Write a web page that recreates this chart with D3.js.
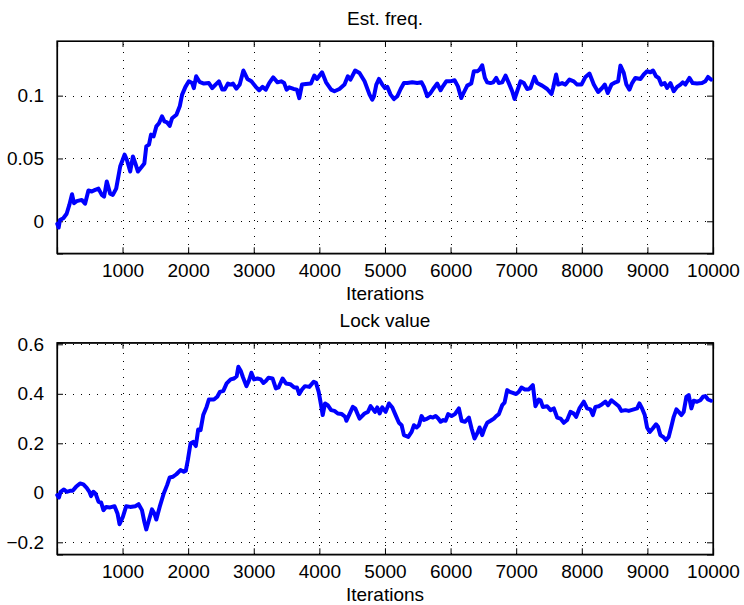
<!DOCTYPE html>
<html><head><meta charset="utf-8">
<script src="https://cdn.jsdelivr.net/npm/d3@7"></script>
<style>
html,body{margin:0;padding:0;background:#fff;}
svg{display:block;}
text{font-family:"Liberation Sans",Arial,Helvetica,sans-serif;fill:#000;}
</style></head>
<body>
<svg id="chart" width="744" height="605"></svg>
<script>
// ---- data ----
const freqIter = [5,26,46,97,148,189,230,260,301,378,429,480,531,582,633,684,719,760,811,852,903,964,1031,1066,1117,1158,1194,1235,1296,1332,1362,1403,1434,1474,1515,1556,1602,1638,1679,1719,1755,1821,1872,1908,1959,2010,2061,2087,2122,2173,2240,2316,2367,2418,2469,2520,2556,2607,2648,2684,2735,2786,2842,2903,2964,3031,3082,3133,3184,3235,3296,3362,3418,3464,3500,3541,3607,3658,3694,3735,3796,3872,3923,3964,4041,4102,4179,4230,4306,4383,4434,4474,4546,4612,4689,4765,
4807,4832,4868,4909,4959,5000,5036,5086,5137,5188,5239,5289,5340,5416,5492,5558,5594,5645,5695,5746,5797,5848,5883,5934,5995,6061,6112,6162,6198,6254,6315,6355,6406,6442,6482,6523,6558,6609,6650,6696,6736,6787,6838,6888,6939,6975,7015,7066,7117,7168,7218,7279,7320,7396,7472,7538,7563,7609,7640,7700,7751,7812,7878,7929,7995,8056,8117,8183,8249,8310,8351,8396,8452,8513,8554,8589,8640,8680,8726,8767,8817,8894,8944,8995,9046,9086,9132,9173,9213,9264,9300,9351,9401,9452,9503,9538,9579,9640,9690,9756,9833,9883,9924,9970];
const freqVal = [-0.002,-0.005,0.001,0.0024,0.006,0.013,0.0215,0.0144,0.016,0.017,0.014,0.0245,0.0237,0.025,0.026,0.021,0.0197,0.0317,0.022,0.021,0.026,0.0436,0.053,0.049,0.0396,0.0516,0.0463,0.0396,0.0436,0.046,0.0596,0.061,0.069,0.0676,0.0755,0.078,0.0835,0.0795,0.0787,0.076,0.082,0.0848,0.0915,0.1008,0.107,0.1114,0.110,0.106,0.1154,0.111,0.1096,0.110,0.106,0.1088,0.1114,0.1048,0.1048,0.1096,0.1088,0.1096,0.1056,0.1088,0.120,0.1133,0.1114,0.107,0.1043,0.107,0.1048,0.110,0.1146,0.1106,0.1114,0.110,0.1048,0.1066,0.1053,0.1048,0.098,0.1088,0.1093,0.1096,0.116,0.1133,0.1186,0.1106,0.1048,0.1035,0.1053,0.1088,0.1154,0.1128,0.120,0.118,0.1114,0.1008,
0.0968,0.0995,0.1088,0.1133,0.1088,0.106,0.107,0.1008,0.0973,0.0995,0.1053,0.110,0.110,0.1106,0.110,0.1106,0.107,0.0995,0.1021,0.1061,0.1096,0.1043,0.1074,0.1114,0.1114,0.1122,0.1074,0.0981,0.1021,0.108,0.1096,0.1194,0.1194,0.1207,0.1242,0.1141,0.1106,0.110,0.1106,0.1141,0.110,0.1106,0.116,0.110,0.1035,0.0973,0.1035,0.1114,0.110,0.1053,0.1061,0.1149,0.110,0.108,0.1053,0.1013,0.1061,0.1168,0.1088,0.110,0.1088,0.1128,0.1114,0.1088,0.1088,0.1149,0.1176,0.1088,0.1029,0.1061,0.1088,0.1021,0.1088,0.1106,0.1114,0.1239,0.1181,0.1088,0.1048,0.110,0.1141,0.1133,0.1168,0.1194,0.1186,0.120,0.1154,0.1141,0.1088,0.110,0.1061,0.110,0.1035,0.107,0.1088,0.1106,0.1088,0.1141,0.110,0.1096,0.110,0.1114,0.1149,0.1128];

const lockIter = [5,31,56,107,148,199,240,291,352,403,454,495,520,556,592,633,673,709,750,811,878,923,954,1005,1056,1117,1194,1245,1296,1332,1362,1403,1449,1485,1515,1566,1628,1679,1719,1770,1821,1883,1934,1964,1995,2036,2077,2117,2153,2189,2230,2281,2316,2393,2444,2485,2536,2587,2648,2699,2740,2765,2801,2837,2888,2929,2964,3005,3056,3107,3148,3184,3224,3286,3337,3378,3439,3490,3556,3617,3658,3694,3735,3781,3847,3913,3949,3990,4026,4051,4087,4128,4179,4230,4281,4342,4393,4413,4459,4510,4546,4612,4689,4740,4781,
4807,4848,4883,4919,4959,5010,5061,5112,5162,5213,5254,5289,5355,5406,5442,5482,5518,5558,5594,5645,5695,5731,5772,5812,5848,5889,5924,5964,6015,6066,6127,6168,6218,6279,6320,6365,6406,6442,6482,6518,6558,6609,6660,6696,6736,6787,6823,6863,6904,6949,7000,7041,7081,7132,7193,7254,7294,7345,7371,7406,7472,7523,7574,7625,7675,7726,7777,7827,7878,7914,7964,8030,8081,8132,8168,8208,8259,8310,8361,8401,8452,8513,8564,8605,8666,8716,8792,8843,8879,8919,8960,8995,9036,9081,9132,9162,9198,9249,9284,9325,9366,9401,9442,9477,9518,9553,9594,9630,9670,9706,9756,9807,9848,9883,9924,9970];
const lockVal = [-0.009,-0.019,0.004,0.0135,0.004,0.008,0.008,0.024,0.038,0.034,0.020,0.004,-0.0135,0.004,-0.005,-0.036,-0.039,-0.070,-0.057,-0.059,-0.054,-0.0835,-0.127,-0.097,-0.054,-0.057,-0.054,-0.046,-0.070,-0.117,-0.148,-0.110,-0.067,-0.0835,-0.108,-0.057,-0.003,0.031,0.062,0.065,0.075,0.092,0.085,0.089,0.132,0.199,0.206,0.189,0.256,0.253,0.314,0.347,0.377,0.377,0.388,0.408,0.412,0.442,0.458,0.462,0.471,0.509,0.493,0.466,0.431,0.455,0.485,0.458,0.462,0.458,0.444,0.452,0.465,0.462,0.4215,0.4255,0.462,0.442,0.439,0.4255,0.4255,0.399,0.4175,0.431,0.428,0.4485,0.444,0.408,0.354,0.314,0.361,0.354,0.334,0.331,0.3205,0.318,0.307,0.291,0.318,0.347,0.341,0.300,0.3205,0.327,0.350,
0.341,0.327,0.345,0.3205,0.345,0.327,0.361,0.345,0.314,0.283,0.273,0.233,0.226,0.246,0.273,0.264,0.273,0.310,0.294,0.300,0.307,0.304,0.310,0.300,0.287,0.294,0.291,0.318,0.310,0.318,0.341,0.291,0.287,0.304,0.260,0.2195,0.240,0.264,0.233,0.260,0.283,0.291,0.300,0.310,0.318,0.354,0.364,0.415,0.408,0.404,0.399,0.408,0.4255,0.4175,0.4175,0.435,0.350,0.377,0.374,0.347,0.350,0.334,0.341,0.304,0.300,0.283,0.294,0.327,0.320,0.307,0.341,0.368,0.341,0.337,0.314,0.347,0.350,0.358,0.368,0.354,0.374,0.361,0.350,0.331,0.334,0.331,0.337,0.341,0.361,0.341,0.314,0.264,0.246,0.260,0.277,0.267,0.233,0.2235,0.213,0.226,0.269,0.307,0.337,0.327,0.314,0.327,0.388,0.395,0.341,0.372,0.368,0.374,0.388,0.391,0.377,0.372];

const xTicks = [1000,2000,3000,4000,5000,6000,7000,8000,9000,10000];
const freqTicks = [0,0.05,0.1];
const freqTickLabels = ["0","0.05","0.1"];
const lockTicks = [-0.2,0,0.2,0.4,0.6];
const lockTickLabels = ["\u22120.2","0","0.2","0.4","0.6"];
const titles = ["Est. freq.","Lock value"];
const xLabel = "Iterations";

// ---- drawing ----
const svg = d3.select("#chart");
const FS = 19;
const left = 57, right = 713;

function panel(top, bottom, yDomain, iters, vals, yTicks, yLabels, title) {
  const x = d3.scaleLinear().domain([1, 10000]).range([left, right]);
  const y = d3.scaleLinear().domain(yDomain).range([bottom, top]);
  const g = svg.append("g");

  // grid (dotted)
  const grid = g.append("g").attr("stroke", "#000").attr("stroke-width", 1)
    .attr("stroke-dasharray", "1,7").attr("shape-rendering", "crispEdges");
  grid.selectAll(".vx").data(xTicks.filter(t => t < 10000)).join("line")
    .attr("x1", d => Math.round(x(d)) + 0.5).attr("x2", d => Math.round(x(d)) + 0.5)
    .attr("y1", bottom).attr("y2", top);
  grid.selectAll(".hy").data(yTicks).join("line")
    .attr("y1", d => Math.round(y(d)) + 0.5).attr("y2", d => Math.round(y(d)) + 0.5)
    .attr("x1", left).attr("x2", right);

  // axes (inward ticks on all four sides)
  const tl = 6;
  g.append("g").attr("transform", `translate(0,${bottom})`)
    .call(d3.axisBottom(x).tickValues(xTicks).tickSize(-tl).tickPadding(10).tickFormat(d3.format("d")));
  g.append("g").attr("transform", `translate(0,${top})`)
    .call(d3.axisTop(x).tickValues(xTicks).tickSize(-tl).tickFormat(""));
  g.append("g").attr("transform", `translate(${left},0)`)
    .call(d3.axisLeft(y).tickValues(yTicks).tickSize(-tl).tickPadding(13).tickFormat((d, i) => yLabels[i]));
  g.append("g").attr("transform", `translate(${right},0)`)
    .call(d3.axisRight(y).tickValues(yTicks).tickSize(-tl).tickFormat(""));
  g.selectAll(".domain").attr("stroke", "#000").attr("stroke-width", 1.2);
  g.selectAll(".tick line").attr("stroke", "#000");
  g.selectAll(".tick text").attr("font-size", FS).attr("font-family", '"Liberation Sans",Arial,sans-serif').attr("fill", "#000");

  // box edges
  g.append("rect").attr("x", left).attr("y", top).attr("width", right - left).attr("height", bottom - top)
    .attr("fill", "none").attr("stroke", "#000").attr("stroke-width", 1.2);

  // line
  const pts = iters.map((d, i) => [d, vals[i]]);
  g.append("path").datum(pts)
    .attr("fill", "none").attr("stroke", "#0000ff").attr("stroke-width", 4)
    .attr("stroke-linejoin", "round").attr("stroke-linecap", "round")
    .attr("d", d3.line().x(d => x(d[0])).y(d => y(d[1])));

  // title and x label
  g.append("text").attr("x", (left + right) / 2).attr("y", top - 16)
    .attr("text-anchor", "middle").attr("font-size", FS).text(title);
  g.append("text").attr("x", (left + right) / 2).attr("y", bottom + 47)
    .attr("text-anchor", "middle").attr("font-size", FS).text(xLabel);
}

panel(41, 253.3, [-0.0255, 0.1435], freqIter, freqVal, freqTicks, freqTickLabels, titles[0]);
panel(342.7, 554.3, [-0.2485, 0.6065], lockIter, lockVal, lockTicks, lockTickLabels, titles[1]);
</script>
</body></html>
